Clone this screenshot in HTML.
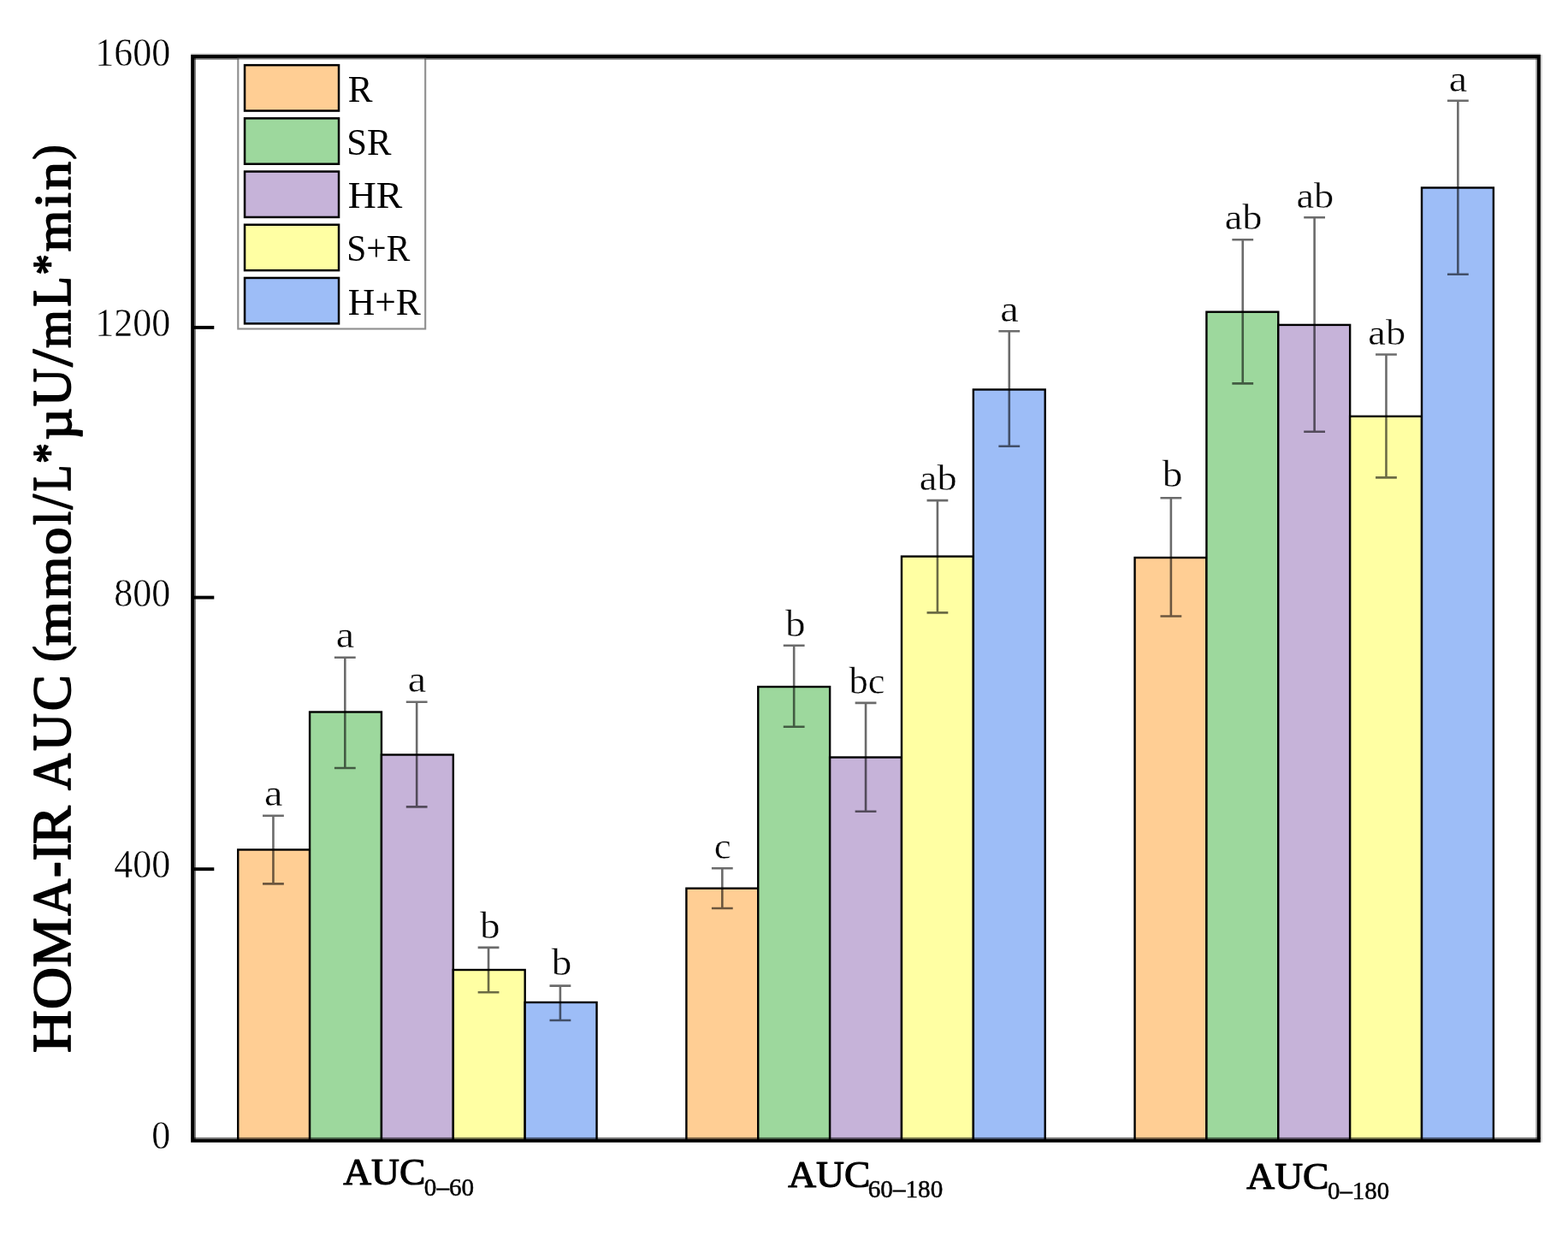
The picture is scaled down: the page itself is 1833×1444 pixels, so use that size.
<!DOCTYPE html>
<html lang="en"><head><meta charset="utf-8"><title>HOMA-IR AUC</title>
<style>html,body{margin:0;padding:0;background:#fff}body{width:1833px;height:1444px;overflow:hidden}svg{display:block}text{font-family:"Liberation Serif",serif;fill:#000}.r text{stroke:#fff;stroke-width:0.4}</style>
</head><body>
<svg width="1833" height="1444" viewBox="0 0 1833 1444">
<rect x="0" y="0" width="1833" height="1444" fill="#fff"/>
<g stroke="#000" stroke-width="2.4" stroke-linejoin="miter">
<rect x="278.22" y="993.5" width="83.87" height="340.3" fill="#FFCE94"/>
<rect x="362.08" y="832.5" width="83.87" height="501.3" fill="#9DD89D"/>
<rect x="445.95" y="882.5" width="83.87" height="451.3" fill="#C6B3D9"/>
<rect x="529.82" y="1134" width="83.87" height="199.8" fill="#FFFFA3"/>
<rect x="613.68" y="1172" width="83.87" height="161.8" fill="#9DBDF7"/>
<rect x="802.38" y="1038.7" width="83.87" height="295.1" fill="#FFCE94"/>
<rect x="886.25" y="803" width="83.87" height="530.8" fill="#9DD89D"/>
<rect x="970.12" y="885.5" width="83.87" height="448.3" fill="#C6B3D9"/>
<rect x="1053.98" y="650.6" width="83.87" height="683.2" fill="#FFFFA3"/>
<rect x="1137.85" y="455.5" width="83.87" height="878.3" fill="#9DBDF7"/>
<rect x="1326.55" y="652" width="83.87" height="681.8" fill="#FFCE94"/>
<rect x="1410.42" y="364.7" width="83.87" height="969.1" fill="#9DD89D"/>
<rect x="1494.28" y="379.9" width="83.87" height="953.9" fill="#C6B3D9"/>
<rect x="1578.15" y="486.8" width="83.87" height="847" fill="#FFFFA3"/>
<rect x="1662.02" y="219.5" width="83.87" height="1114.3" fill="#9DBDF7"/>
</g>
<g stroke="#000" stroke-opacity="0.58" stroke-width="2.6" fill="none">
<path d="M307.05 953.7H331.85M319.45 955V1032.1M307.05 1033.4H331.85"/>
<path d="M390.92 768.7H415.72M403.32 770V896.7M390.92 898H415.72"/>
<path d="M474.78 820.8H499.58M487.18 822.1V942.1M474.78 943.4H499.58"/>
<path d="M558.65 1107.9H583.45M571.05 1109.2V1159M558.65 1160.3H583.45"/>
<path d="M642.52 1152.6H667.32M654.92 1153.9V1191.7M642.52 1193H667.32"/>
<path d="M831.92 1015.3H856.72M844.32 1016.6V1060.7M831.92 1062H856.72"/>
<path d="M915.78 754.8H940.58M928.18 756.1V848.5M915.78 849.8H940.58"/>
<path d="M999.65 821.9H1024.45M1012.05 823.2V947.5M999.65 948.8H1024.45"/>
<path d="M1083.52 585.1H1108.32M1095.92 586.4V715.1M1083.52 716.4H1108.32"/>
<path d="M1167.38 387.3H1192.18M1179.78 388.6V520.5M1167.38 521.8H1192.18"/>
<path d="M1356.48 582.2H1381.28M1368.88 583.5V719.2M1356.48 720.5H1381.28"/>
<path d="M1440.35 280.2H1465.15M1452.75 281.5V447.1M1440.35 448.4H1465.15"/>
<path d="M1524.22 254.3H1549.02M1536.62 255.6V503.5M1524.22 504.8H1549.02"/>
<path d="M1608.08 414.5H1632.88M1620.48 415.8V557.1M1608.08 558.4H1632.88"/>
<path d="M1691.95 117.8H1716.75M1704.35 119.1V319.5M1691.95 320.8H1716.75"/>
</g>
<g fill="#000">
<rect x="227" y="64" width="1.9" height="1269" opacity="0.55"/>
<rect x="223.2" y="1329.9" width="1577.7" height="2" opacity="0.55"/>
<rect x="223.2" y="62.4" width="1577.7" height="1.6" opacity="0.2"/>
<rect x="227" y="67.8" width="1570" height="1.9" opacity="0.33"/>
<rect x="1795.3" y="67.8" width="1.6" height="1264" opacity="0.4"/>
<rect x="1800.9" y="64" width="1.8" height="1271.7" opacity="0.2"/>
</g>
<rect x="225.1" y="65.9" width="1573.8" height="1267.9" fill="none" stroke="#000" stroke-width="3.9"/>
<g stroke="#000" stroke-width="3.9">
<path d="M225.1 382.9H250.3"/>
<path d="M225.1 698.6H250.3"/>
<path d="M225.1 1016.2H250.3"/>
</g>
<g class="r" font-size="45.8" text-anchor="end">
<text transform="translate(199.26 77.1) scale(0.96 1)">1600</text>
<text transform="translate(199.26 393.1) scale(0.96 1)">1200</text>
<text transform="translate(199.26 709.3) scale(0.96 1)">800</text>
<text transform="translate(199.26 1026.2) scale(0.96 1)">400</text>
<text transform="translate(199.26 1343.4) scale(0.96 1)">0</text>
</g>
<g class="r" text-anchor="middle">
<text font-size="44" transform="translate(319.64 942.36) scale(1.1 1)">a</text>
<text font-size="44" transform="translate(403.51 757.06) scale(1.1 1)">a</text>
<text font-size="44" transform="translate(487.37 808.56) scale(1.1 1)">a</text>
<text font-size="44.5" transform="translate(572.69 1097.06) scale(1.06 1)">b</text>
<text font-size="44.5" transform="translate(656.56 1139.96) scale(1.06 1)">b</text>
<text font-size="45" transform="translate(844.77 1003.95) scale(1 1)">c</text>
<text font-size="44.5" transform="translate(929.83 743.65) scale(1.06 1)">b</text>
<text font-size="44.5" transform="translate(1013.39 811.05) scale(1 1)">bc</text>
<text font-size="42.6" transform="translate(1096.71 572.57) scale(1.09 1)">ab</text>
<text font-size="44" transform="translate(1179.97 375.56) scale(1.1 1)">a</text>
<text font-size="44.5" transform="translate(1370.53 568.85) scale(1.06 1)">b</text>
<text font-size="42.6" transform="translate(1453.54 268.17) scale(1.09 1)">ab</text>
<text font-size="42.6" transform="translate(1537.41 242.67) scale(1.09 1)">ab</text>
<text font-size="42.6" transform="translate(1621.27 402.77) scale(1.09 1)">ab</text>
<text font-size="44" transform="translate(1704.54 106.96) scale(1.1 1)">a</text>
</g>
<rect x="278.3" y="67.5" width="218.9" height="317" fill="#fff" stroke="#8e8e8e" stroke-width="2.1"/>
<path d="M225.1 65.9H1798.9" stroke="#000" stroke-width="3.9"/>
<rect x="227" y="67.8" width="1570" height="1.9" fill="#000" opacity="0.33"/>
<g stroke="#000" stroke-width="2.5">
<rect x="286.05" y="76.15" width="110" height="53.4" fill="#FFCE94"/>
<rect x="286.05" y="138.35" width="110" height="53.4" fill="#9DD89D"/>
<rect x="286.05" y="200.55" width="110" height="53.4" fill="#C6B3D9"/>
<rect x="286.05" y="262.75" width="110" height="53.4" fill="#FFFFA3"/>
<rect x="286.05" y="324.95" width="110" height="53.4" fill="#9DBDF7"/>
</g>
<g font-size="44">
<text transform="translate(406.71 119.1) scale(0.98 1)">R</text>
<text transform="translate(405.24 181.2) scale(0.97 1)">SR</text>
<text transform="translate(406.63 243.3) scale(1.04 1)">HR</text>
<text transform="translate(405.32 305.4) scale(0.94 1)">S+R</text>
<text transform="translate(406.69 367.5) scale(0.99 1)">H+R</text>
</g>
<text stroke="#000" stroke-width="1.1" stroke-linejoin="round" font-size="43.8" transform="translate(401.2 1385.2) scale(1.04 1)">AUC</text>
<text stroke="#000" stroke-width="0.5" stroke-linejoin="round" font-size="30.4" transform="translate(495.84 1397.8) scale(0.96 1)">0–60</text>
<text stroke="#000" stroke-width="1.1" stroke-linejoin="round" font-size="43.8" transform="translate(921.2 1387.8) scale(1.04 1)">AUC</text>
<text stroke="#000" stroke-width="0.5" stroke-linejoin="round" font-size="30.4" transform="translate(1014.74 1400) scale(0.96 1)">60–180</text>
<text stroke="#000" stroke-width="1.1" stroke-linejoin="round" font-size="43.8" transform="translate(1457.3 1390.2) scale(1.04 1)">AUC</text>
<text stroke="#000" stroke-width="0.5" stroke-linejoin="round" font-size="30.4" transform="translate(1551.95 1402.2) scale(0.95 1)">0–180</text>
<text stroke="#000" stroke-width="1.7" stroke-linejoin="round" font-size="63.5" transform="rotate(-90)"><tspan x="-1230.99" y="81.95" font-size="63.5" textLength="49.79" lengthAdjust="spacingAndGlyphs">H</tspan><tspan x="-1180.28" y="81.95" font-size="63.5" textLength="49.39" lengthAdjust="spacingAndGlyphs">O</tspan><tspan x="-1131.03" y="81.95" font-size="63.5" textLength="58.02" lengthAdjust="spacingAndGlyphs">M</tspan><tspan x="-1070.87" y="81.95" font-size="63.5" textLength="43.1" lengthAdjust="spacingAndGlyphs">A</tspan><tspan x="-1025.88" y="84.05" font-size="71.2" textLength="18.74" lengthAdjust="spacingAndGlyphs">-</tspan><tspan x="-1006.39" y="81.95" font-size="63.5" textLength="20.98" lengthAdjust="spacingAndGlyphs">I</tspan><tspan x="-987.06" y="81.95" font-size="63.5" textLength="44.78" lengthAdjust="spacingAndGlyphs">R</tspan> <tspan x="-923.97" y="81.95" font-size="63.5" textLength="43.1" lengthAdjust="spacingAndGlyphs">A</tspan><tspan x="-878.08" y="81.95" font-size="63.5" textLength="43.96" lengthAdjust="spacingAndGlyphs">U</tspan><tspan x="-831.34" y="81.95" font-size="63.5" textLength="42.14" lengthAdjust="spacingAndGlyphs">C</tspan> <tspan x="-773.72" y="76.5" font-size="54.9" textLength="18.57" lengthAdjust="spacingAndGlyphs">(</tspan><tspan x="-755.27" y="81.85" font-size="58.6" textLength="52.26" lengthAdjust="spacingAndGlyphs">m</tspan><tspan x="-699.94" y="81.85" font-size="58.6" textLength="49.33" lengthAdjust="spacingAndGlyphs">m</tspan><tspan x="-648.75" y="81.85" font-size="58.6" textLength="32.17" lengthAdjust="spacingAndGlyphs">o</tspan><tspan x="-613.83" y="81.85" font-size="60.5" textLength="15.73" lengthAdjust="spacingAndGlyphs">l</tspan><tspan x="-595.51" y="83.1" font-size="67.9" textLength="17.4" lengthAdjust="spacingAndGlyphs">/</tspan><tspan x="-574.39" y="81.95" font-size="63.5" textLength="30.81" lengthAdjust="spacingAndGlyphs">L</tspan><tspan x="-541.75" y="75.1" font-size="52.8" textLength="23.42" lengthAdjust="spacingAndGlyphs">*</tspan><tspan x="-514.62" y="82.75" font-size="62" textLength="37.62" lengthAdjust="spacingAndGlyphs">µ</tspan><tspan x="-475.19" y="81.95" font-size="63.5" textLength="44.68" lengthAdjust="spacingAndGlyphs">U</tspan><tspan x="-428.8" y="83.1" font-size="67.9" textLength="20.07" lengthAdjust="spacingAndGlyphs">/</tspan><tspan x="-406.89" y="81.85" font-size="58.6" textLength="44.77" lengthAdjust="spacingAndGlyphs">m</tspan><tspan x="-358.72" y="81.95" font-size="63.5" textLength="35.73" lengthAdjust="spacingAndGlyphs">L</tspan><tspan x="-321.61" y="75.1" font-size="52.8" textLength="24.22" lengthAdjust="spacingAndGlyphs">*</tspan><tspan x="-294.33" y="81.85" font-size="58.6" textLength="48.62" lengthAdjust="spacingAndGlyphs">m</tspan><tspan x="-242.72" y="81.85" font-size="60.5" textLength="17.65" lengthAdjust="spacingAndGlyphs">i</tspan><tspan x="-222.37" y="81.85" font-size="58.6" textLength="33.32" lengthAdjust="spacingAndGlyphs">n</tspan><tspan x="-186.43" y="76.5" font-size="54.9" textLength="16.95" lengthAdjust="spacingAndGlyphs">)</tspan></text>
</svg>
</body></html>
